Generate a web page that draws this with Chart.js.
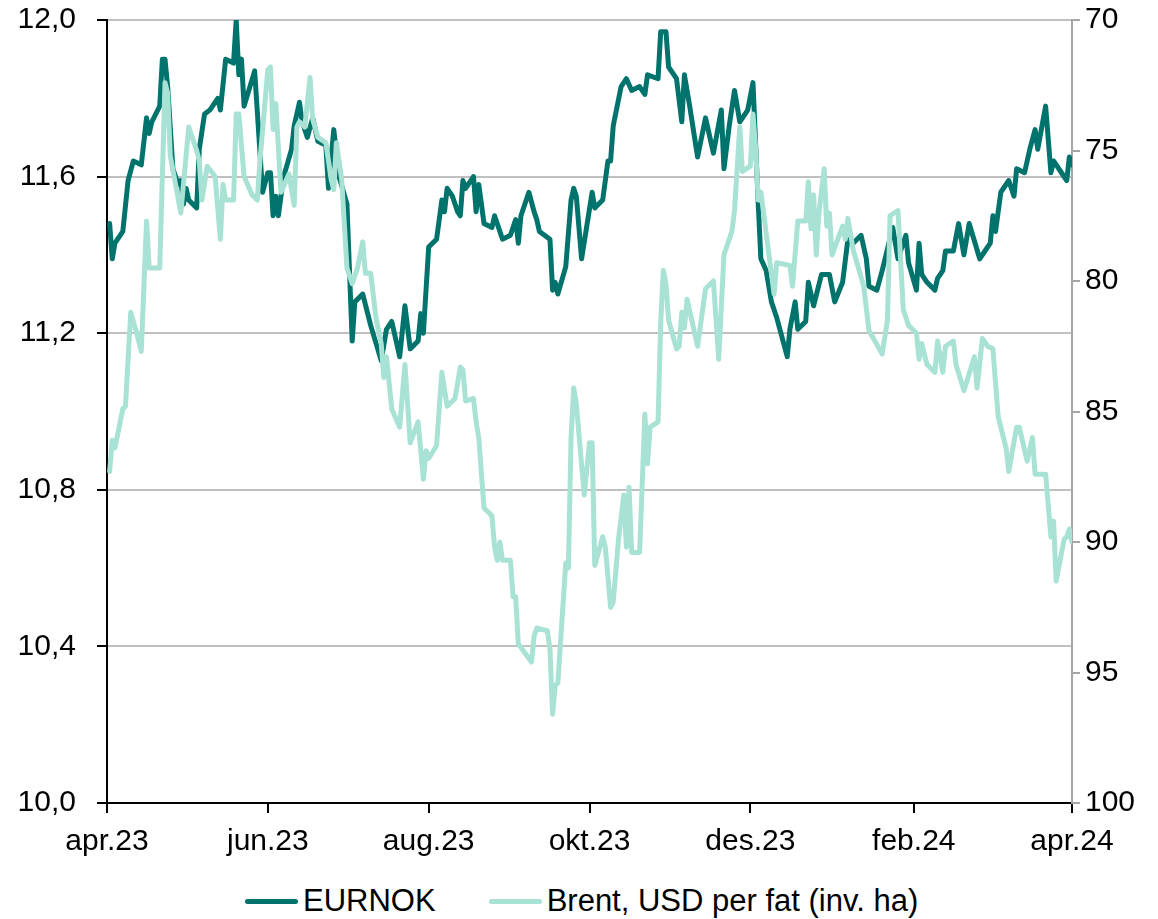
<!DOCTYPE html>
<html>
<head>
<meta charset="utf-8">
<title>EURNOK og Brent</title>
<script src="https://cdn.jsdelivr.net/npm/chart.js@4.4.1/dist/chart.umd.min.js"></script>
<style>
  body { margin: 0; background: #fff; }
  #wrap { position: absolute; left: 0; top: 0; width: 1158px; height: 870px; }
  #legend { position: absolute; left: 245px; top: 883px; height: 36px; display: flex; align-items: center;
            font-family: "Liberation Sans", Arial, sans-serif; font-size: 31px; color: #000; white-space: nowrap; }
  #legend .sw { display: inline-block; width: 53px; height: 5px; border-radius: 3px; }
  #legend .txt { margin-left: 5px; margin-right: 53px; }
</style>
</head>
<body>
<div id="wrap"><canvas id="chart"></canvas></div>
<div id="legend"></div>
<script>
// days counted from 1 april 2023
var tickDays = [0, 61, 122, 183, 244, 306, 366];
var tickLabels = ['apr.23', 'jun.23', 'aug.23', 'okt.23', 'des.23', 'feb.24', 'apr.24'];
var leftTicks = [10.0, 10.4, 10.8, 11.2, 11.6, 12.0];
var rightTicks = [70, 75, 80, 85, 90, 95, 100];

var eurnokDays = [1,2,3,6,8,10,13,15,16,17,20,21,22,23,25,27,28,29,30,31,34,35,37,39,42,43,45,48,49,50,51,52,56,59,61,62,63,64,65,67,70,71,73,74,76,78,80,83,84,86,88,91,93,94,97,100,104,106,108,111,113,115,118,119,120,122,125,127,128,129,131,133,134,135,136,139,140,141,143,146,147,150,153,155,156,157,160,162,163,164,168,169,170,171,174,176,177,178,180,184,185,188,190,191,192,195,197,199,202,204,205,209,210,212,213,216,218,219,221,224,227,230,233,234,236,238,240,243,245,247,248,250,252,254,258,259,261,262,265,266,268,271,274,276,279,281,283,286,288,289,292,294,298,300,303,304,307,308,309,311,314,315,317,318,321,323,325,327,331,333,335,336,337,339,342,344,345,348,350,352,353,356,358,359,361,364,365,366];
var eurnok = [11.48,11.39,11.43,11.46,11.59,11.64,11.63,11.75,11.71,11.74,11.78,11.90,11.90,11.83,11.62,11.58,11.59,11.53,11.57,11.54,11.52,11.67,11.76,11.77,11.80,11.77,11.90,11.89,12.00,11.86,11.90,11.78,11.87,11.56,11.61,11.61,11.50,11.55,11.50,11.60,11.67,11.73,11.79,11.74,11.70,11.75,11.69,11.68,11.57,11.72,11.60,11.53,11.18,11.28,11.30,11.22,11.13,11.21,11.23,11.14,11.27,11.16,11.18,11.25,11.20,11.42,11.44,11.54,11.51,11.57,11.55,11.51,11.50,11.59,11.57,11.60,11.51,11.58,11.48,11.47,11.50,11.44,11.45,11.49,11.43,11.50,11.56,11.51,11.49,11.46,11.44,11.31,11.33,11.30,11.37,11.54,11.57,11.55,11.39,11.56,11.52,11.54,11.64,11.64,11.73,11.83,11.85,11.82,11.83,11.81,11.86,11.85,11.97,11.97,11.88,11.85,11.74,11.86,11.78,11.65,11.75,11.66,11.77,11.62,11.73,11.82,11.74,11.77,11.84,11.53,11.39,11.36,11.28,11.24,11.14,11.21,11.28,11.21,11.23,11.33,11.27,11.35,11.35,11.28,11.33,11.44,11.43,11.45,11.39,11.32,11.31,11.36,11.47,11.39,11.45,11.38,11.31,11.43,11.35,11.33,11.31,11.34,11.36,11.41,11.41,11.48,11.40,11.48,11.39,11.41,11.43,11.50,11.46,11.56,11.59,11.55,11.62,11.61,11.67,11.72,11.67,11.78,11.61,11.64,11.62,11.59,11.65,11.63];

var brentDays = [1,2,3,6,7,9,11,13,15,16,20,22,23,24,28,31,34,35,36,38,41,43,44,45,48,49,50,52,55,57,58,61,62,63,64,66,69,71,72,73,75,77,78,80,83,85,86,87,89,91,93,95,97,98,100,102,104,105,106,108,111,113,115,118,120,121,122,125,127,129,132,134,135,136,139,140,141,143,146,147,148,149,150,153,154,155,156,161,162,163,167,168,169,170,171,174,175,176,177,178,181,183,184,185,188,189,191,192,194,196,197,198,199,202,204,205,206,209,210,211,212,213,216,217,218,219,220,224,227,230,232,234,237,238,240,241,244,245,246,247,248,253,254,259,260,262,265,266,267,268,269,270,272,273,274,275,279,280,281,283,287,289,294,296,297,300,302,304,307,308,309,311,314,315,317,318,321,322,325,329,330,332,334,336,338,341,342,345,346,349,351,352,356,358,359,360,363,364,365,366];
var brent = [87.3,86.1,86.4,84.9,84.8,81.2,81.9,82.7,77.7,79.5,79.5,72.4,72.8,75.2,77.4,74.1,75.0,75.4,76.9,75.6,76.0,78.4,76.3,76.9,76.9,73.6,73.6,76.0,76.7,76.9,75.4,71.9,71.8,74.2,73.2,76.6,75.9,77.1,74.1,73.9,74.1,72.2,73.8,74.5,74.7,76.1,76.5,74.7,76.1,79.5,80.1,79.5,78.5,79.7,79.7,81.4,82.4,83.7,82.9,84.9,85.6,83.2,86.2,85.4,87.6,86.5,86.8,86.3,83.5,84.8,84.5,83.3,83.4,84.6,84.5,85.4,86.0,88.7,89.0,90.2,90.7,90.0,90.7,90.7,92.1,92.1,93.9,94.6,93.6,93.3,93.4,94.1,96.6,95.5,95.4,90.8,91.0,86.0,84.1,84.7,88.2,86.2,86.2,90.9,89.8,90.2,92.5,92.3,89.9,88.2,90.2,87.9,90.4,90.4,85.1,87.0,85.6,85.4,81.6,79.6,80.1,81.5,82.6,82.5,81.2,81.8,80.7,82.5,80.3,80.0,83.0,79.0,78.1,77.3,74.1,75.8,75.6,73.6,74.9,76.9,76.6,80.5,79.3,79.4,80.2,77.7,77.7,76.2,78.0,76.7,79.0,77.4,75.7,77.9,77.4,79.0,77.9,78.4,77.6,78.8,80.2,81.9,82.8,81.5,77.5,77.3,81.1,81.7,82.0,83.0,82.4,83.2,83.5,82.3,83.5,82.5,82.3,83.2,84.2,82.9,84.1,82.2,82.5,82.6,85.2,86.4,87.3,85.6,85.6,86.9,86.0,87.4,87.4,89.8,89.2,91.5,89.9,89.8,89.5,90.0];

function pairs(xs, ys) {
  return xs.map(function (d, i) { return { x: d, y: ys[i] }; });
}

var font = { family: '"Liberation Sans", Arial, sans-serif', size: 30 };

// y axes: fixed width, no extra padding above the plot
function fitY(w) {
  return function (s) { s.width = w; s.paddingTop = 0; s.paddingBottom = 0; };
}

var chart = new Chart(document.getElementById('chart'), {
  type: 'line',
  data: {
    datasets: [
      { label: 'EURNOK', data: pairs(eurnokDays, eurnok), yAxisID: 'y', order: 1,
        borderColor: '#00746c', backgroundColor: '#00746c', borderWidth: 5 },
      { label: 'Brent, USD per fat (inv. ha)', data: pairs(brentDays, brent), yAxisID: 'y2', order: 0,
        borderColor: '#a8e2d4', backgroundColor: '#a8e2d4', borderWidth: 5 }
    ]
  },
  options: {
    responsive: true,
    maintainAspectRatio: false,
    animation: false,
    layout: { padding: { top: 20, left: 0, right: 0, bottom: 0 } },
    elements: {
      line: { tension: 0, borderJoinStyle: 'round', borderCapStyle: 'round' },
      point: { radius: 0 }
    },
    plugins: { legend: { display: false }, tooltip: { enabled: false } },
    scales: {
      x: {
        type: 'linear', position: 'bottom', min: 0, max: 366,
        afterBuildTicks: function (s) { s.ticks = tickDays.map(function (v) { return { value: v }; }); },
        afterFit: function (s) { s.height = 67; },
        ticks: {
          autoSkip: false, maxRotation: 0, color: '#000', font: font, padding: 11,
          callback: function (v) { return tickLabels[tickDays.indexOf(v)]; }
        },
        grid: { drawOnChartArea: false, tickLength: 10, tickColor: '#000', lineWidth: 2 },
        border: { color: '#000', width: 2 }
      },
      y: {
        position: 'left', min: 10, max: 12,
        afterBuildTicks: function (s) { s.ticks = leftTicks.map(function (v) { return { value: v }; }); },
        afterFit: fitY(107),
        ticks: {
          color: '#000', font: font, padding: 21,
          callback: function (v) { return v.toFixed(1).replace('.', ','); }
        },
        grid: { color: '#c0c0c0', lineWidth: 2, tickLength: 10, tickColor: '#000' },
        border: { color: '#000', width: 2 }
      },
      y2: {
        position: 'right', min: 70, max: 100, reverse: true,
        afterBuildTicks: function (s) { s.ticks = rightTicks.map(function (v) { return { value: v }; }); },
        afterFit: fitY(86),
        ticks: { color: '#000', font: font, padding: 5 },
        grid: { drawOnChartArea: false, lineWidth: 2, tickLength: 8, tickColor: '#a6a6a6' },
        border: { color: '#a6a6a6', width: 2 }
      }
    }
  }
});

// legend under the chart, built from the datasets
var legend = document.getElementById('legend');
chart.data.datasets.forEach(function (ds) {
  var sw = document.createElement('span');
  sw.className = 'sw';
  sw.style.background = ds.borderColor;
  var t = document.createElement('span');
  t.className = 'txt';
  t.textContent = ds.label;
  legend.appendChild(sw);
  legend.appendChild(t);
});
</script>
</body>
</html>
